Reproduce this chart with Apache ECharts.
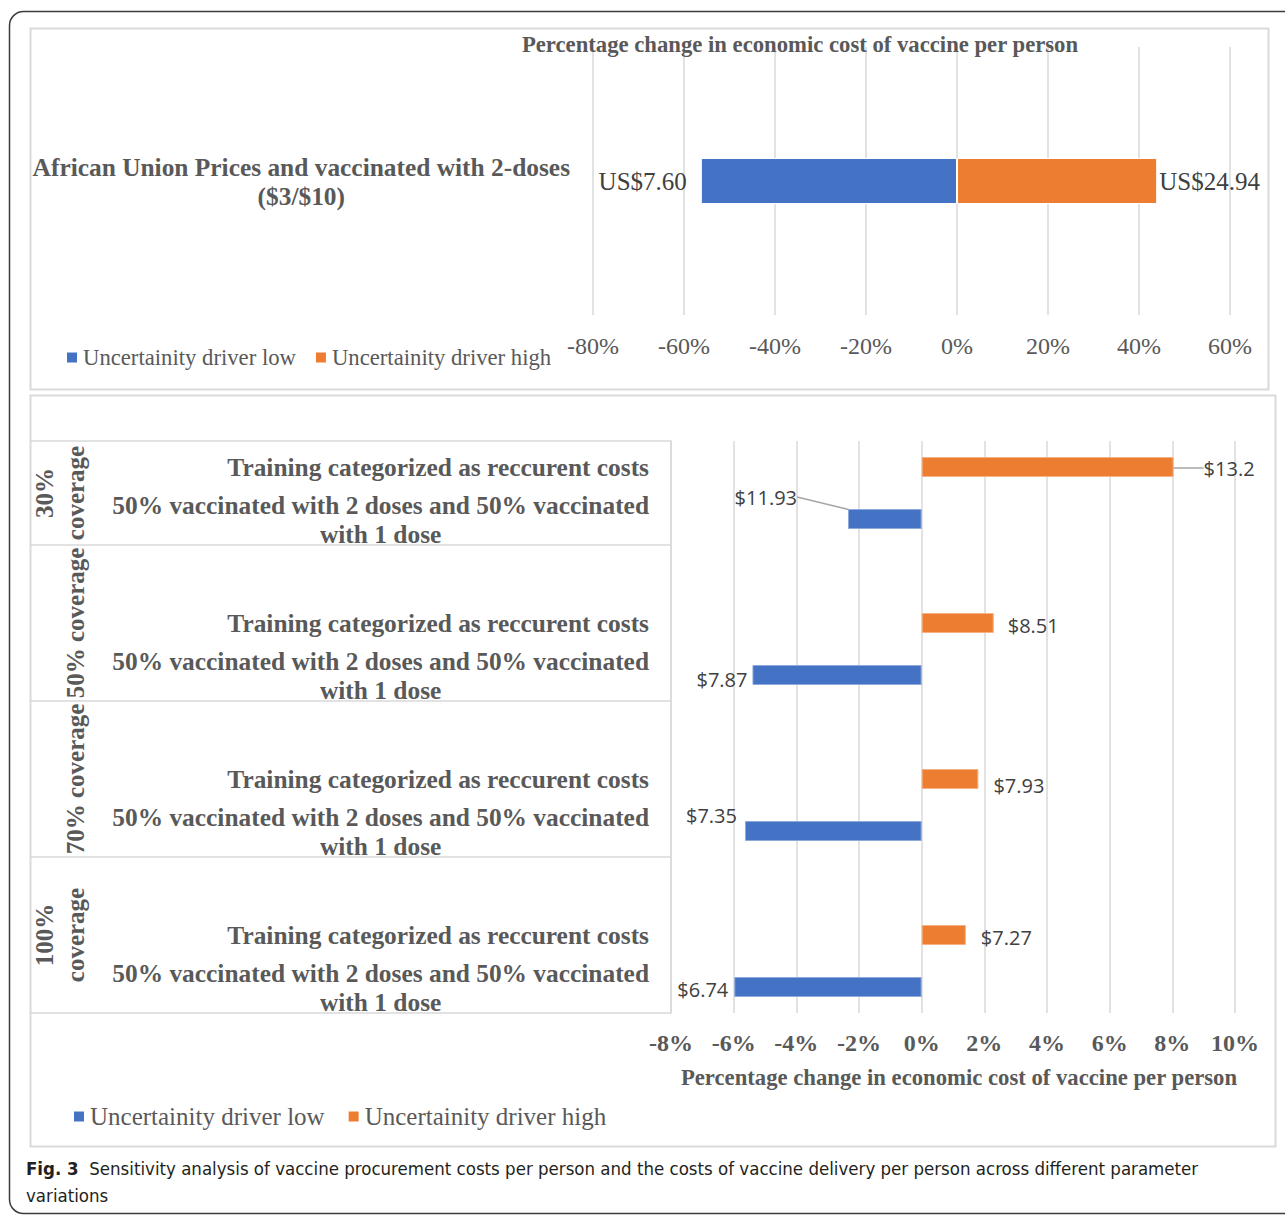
<!DOCTYPE html>
<html><head><meta charset="utf-8">
<script src="https://cdn.jsdelivr.net/npm/echarts@6/dist/echarts.min.js"></script>
<style>html,body{margin:0;padding:0;background:#fff}#c{width:1285px;height:1215px}</style>
</head><body><div id="c"></div>
<script>
// ---------------- data ----------------
const seriesNames = ['Uncertainity driver low', 'Uncertainity driver high'];

const topTitle = 'Percentage change in economic cost of vaccine per person';
const topCategory = ['African Union Prices and vaccinated with 2-doses\n($3/$10)'];
const topLow = [-56.3];
const topHigh = [44.0];
const topLowLabels = ['US$7.60'];
const topHighLabels = ['US$24.94'];
const topAxisMin = -80, topAxisMax = 60, topAxisStep = 20;

const coverageGroups = ['30%\ncoverage', '50% coverage', '70% coverage', '100%\ncoverage'];
const scenarioRows = ['Training categorized as reccurent costs',
                      '50% vaccinated with 2 doses and 50% vaccinated\nwith 1 dose'];
const highPct = [8.04, 2.30, 1.81, 1.41];      // Training categorized as reccurent costs
const lowPct = [-2.35, -5.40, -5.64, -5.98];   // 50% vaccinated with 2 doses ...
const highCost = ['$13.2', '$8.51', '$7.93', '$7.27'];
const lowCost = ['$11.93', '$7.87', '$7.35', '$6.74'];
const bottomAxisMin = -8, bottomAxisMax = 10, bottomAxisStep = 2;
const bottomAxisName = 'Percentage change in economic cost of vaccine per person';

const captionBold = 'Fig. 3';
const captionText = 'Sensitivity analysis of vaccine procurement costs per person and the costs of vaccine delivery per person across different parameter\nvariations';

// ---------------- styles ----------------
const BLUE = '#4472C4', ORANGE = '#ED7D31';
const SERIF = '"Liberation Serif","Times New Roman",serif';
const SANS = '"Open Sans","Noto Sans",sans-serif';
const CAPFONT = '"Liberation Sans Narrow","DejaVu Sans Condensed","Open Sans",sans-serif';
const GREY = '#595959', DARK = '#404040', GRID = '#d9d9d9';

// label nudges (pixels) per coverage group, kept separate from the data
const lowShift = [[-46, -22], [0, 4], [-3, -16], [-1, 2]];
const highShift = [[25, 1], [9, 2], [10, 6], [10, 2]];

// ---------------- build category slots ----------------
const slots = [];
const groupSpans = [];
coverageGroups.forEach((g, i) => {
  const start = slots.length;
  if (i > 0) slots.push({ label: '', group: i, kind: null });
  slots.push({ label: scenarioRows[0], group: i, kind: 'high' });
  slots.push({ label: scenarioRows[1], group: i, kind: 'low' });
  groupSpans.push([start, slots.length - 1]);
});
const groupCenters = groupSpans.map(s => (s[0] + s[1]) / 2);
const groupBounds = groupSpans.map(s => s[0] - 0.5).concat([groupSpans[groupSpans.length - 1][1] + 0.5]);

function centeredBlock(text) {
  return text.split('\n').map(l => '{c|' + l + '}').join('\n');
}

const catRich = { c: { align: 'center', fontFamily: SERIF, fontWeight: 'bold', fontSize: 25.4, color: GREY, lineHeight: 29 } };

const chart = echarts.init(document.getElementById('c'), null, { renderer: 'svg' });

chart.setOption({
  animation: false,
  backgroundColor: '#fff',
  graphic: [
    { type: 'rect', silent: true, z: -10, shape: { x: 9.5, y: 11.5, width: 1300, height: 1202, r: 14 }, style: { fill: 'none', stroke: '#3c3c3c', lineWidth: 1.5 } },
    { type: 'rect', silent: true, z: -10, shape: { x: 30.5, y: 28.5, width: 1238, height: 361 }, style: { fill: 'none', stroke: GRID, lineWidth: 2 } },
    { type: 'rect', silent: true, z: -10, shape: { x: 30.5, y: 395.5, width: 1245, height: 751 }, style: { fill: 'none', stroke: GRID, lineWidth: 2 } }
  ],
  title: [
    { text: topTitle, left: 800, top: 33, textAlign: 'center', padding: 0,
      textStyle: { fontFamily: SERIF, fontWeight: 'bold', fontSize: 22.7, color: GREY } },
    { text: '{b|' + captionBold + '}  ' + captionText, left: 26, top: 1155, padding: 0,
      textStyle: { fontFamily: CAPFONT, fontSize: 18.5, fontWeight: 'normal', color: '#231f20', lineHeight: 27,
        rich: { b: { fontFamily: CAPFONT, fontWeight: 'bold', fontSize: 18.5, color: '#231f20', lineHeight: 27 } } } }
  ],
  legend: [
    { data: seriesNames, left: 65, top: 346, padding: 0, icon: 'rect', itemWidth: 12, itemHeight: 12, itemGap: 18,
      textStyle: { fontFamily: SERIF, fontSize: 22.7, color: GREY }, selectedMode: false },
    { data: seriesNames, left: 72, top: 1104, padding: 0, icon: 'rect', itemWidth: 12, itemHeight: 12, itemGap: 22,
      textStyle: { fontFamily: SERIF, fontSize: 25, color: GREY }, selectedMode: false }
  ],
  grid: [
    { left: 593, top: 47, width: 637, height: 268, containLabel: false, outerBoundsMode: 'none' },
    { left: 671, top: 441, width: 564, height: 572, containLabel: false, outerBoundsMode: 'none' }
  ],
  xAxis: [
    { type: 'value', gridIndex: 0, min: topAxisMin, max: topAxisMax, interval: topAxisStep,
      axisLine: { show: false }, axisTick: { show: false },
      splitLine: { show: true, lineStyle: { color: GRID, width: 1.5 } },
      axisLabel: { formatter: '{value}%', margin: 19, fontFamily: SERIF, fontSize: 24, color: GREY } },
    { type: 'value', gridIndex: 1, min: bottomAxisMin, max: bottomAxisMax, interval: bottomAxisStep,
      axisLine: { show: false }, axisTick: { show: false },
      splitLine: { show: true, lineStyle: { color: GRID, width: 1.5 } },
      axisLabel: { formatter: '{value}%', margin: 18, fontFamily: SERIF, fontWeight: 'bold', fontSize: 24, color: GREY },
      name: bottomAxisName, nameLocation: 'middle', nameGap: 53,
      nameTextStyle: { fontFamily: SERIF, fontWeight: 'bold', fontSize: 22.7, color: GREY, padding: [0, 0, 0, 12] } }
  ],
  yAxis: [
    { type: 'category', gridIndex: 0, data: topCategory, inverse: true, position: 'left',
      axisLine: { show: false }, axisTick: { show: false },
      axisLabel: { margin: 23, formatter: v => centeredBlock(v), rich: catRich,
        fontFamily: SERIF, fontWeight: 'bold', fontSize: 25.4, color: GREY } },
    { type: 'category', gridIndex: 1, data: slots.map(s => s.label), inverse: true, position: 'left',
      axisLine: { show: false }, axisTick: { show: false },
      axisLabel: { interval: 0, margin: 22, formatter: v => v ? centeredBlock(v) : '', rich: catRich,
        fontFamily: SERIF, fontWeight: 'bold', fontSize: 25.4, color: GREY } },
    { type: 'value', gridIndex: 1, inverse: true, position: 'left', offset: 0,
      min: groupBounds[0], max: groupBounds[groupBounds.length - 1],
      splitLine: { show: false },
      axisLine: { show: true, lineStyle: { color: GRID, width: 1.5 } },
      axisTick: { show: true, customValues: groupBounds, length: 641, lineStyle: { color: GRID, width: 1.5 } },
      axisLabel: { show: true, customValues: groupCenters, rotate: 90, margin: 580,
        formatter: v => { const k = groupCenters.findIndex(c => Math.abs(c - v) < 1e-6); return k >= 0 ? coverageGroups[k] : ''; },
        fontFamily: SERIF, fontWeight: 'bold', fontSize: 25, color: GREY, lineHeight: 31 } }
  ],
  series: [
    { type: 'bar', name: seriesNames[0], xAxisIndex: 0, yAxisIndex: 0, stack: 'top', barWidth: 46,
      data: topLow, itemStyle: { color: BLUE, borderColor: '#fff', borderWidth: 1 },
      label: { show: true, position: 'left', distance: 14, formatter: p => topLowLabels[p.dataIndex],
        fontFamily: SERIF, fontSize: 25, color: DARK } },
    { type: 'bar', name: seriesNames[1], xAxisIndex: 0, yAxisIndex: 0, stack: 'top', barWidth: 46,
      data: topHigh, itemStyle: { color: ORANGE, borderColor: '#fff', borderWidth: 1 },
      label: { show: true, position: 'right', distance: 2, formatter: p => topHighLabels[p.dataIndex],
        fontFamily: SERIF, fontSize: 25, color: DARK } },
    { type: 'bar', name: seriesNames[0], xAxisIndex: 1, yAxisIndex: 1, stack: 'bottom', barWidth: 20,
      data: slots.map(s => s.kind === 'low' ? { value: lowPct[s.group], labelLine: { show: s.group === 0 } } : '-'),
      itemStyle: { color: BLUE, borderColor: '#8eaadb', borderWidth: 1 },
      label: { show: true, position: 'left', distance: 5, formatter: p => lowCost[slots[p.dataIndex].group],
        fontFamily: SANS, fontSize: 20, color: DARK },
      labelLine: { show: false, lineStyle: { color: '#a6a6a6', width: 1.5 } },
      labelLayout: p => { const s = lowShift[slots[p.dataIndex].group]; return { dx: s[0], dy: s[1] }; } },
    { type: 'bar', name: seriesNames[1], xAxisIndex: 1, yAxisIndex: 1, stack: 'bottom', barWidth: 20,
      data: slots.map(s => s.kind === 'high' ? { value: highPct[s.group], labelLine: { show: s.group === 0 } } : '-'),
      itemStyle: { color: ORANGE, borderColor: '#f4b183', borderWidth: 1 },
      label: { show: true, position: 'right', distance: 5, formatter: p => highCost[slots[p.dataIndex].group],
        fontFamily: SANS, fontSize: 20, color: DARK },
      labelLine: { show: false, lineStyle: { color: '#a6a6a6', width: 1.5 } },
      labelLayout: p => { const s = highShift[slots[p.dataIndex].group]; return { dx: s[0], dy: s[1] }; } }
  ]
});
</script>
</body></html>
